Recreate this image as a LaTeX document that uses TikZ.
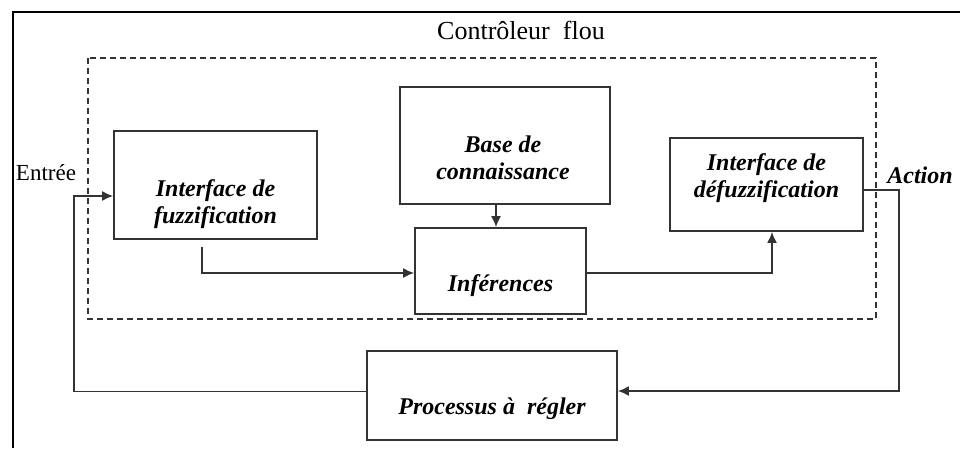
\documentclass[tikz,border=0pt]{standalone}
\usepackage{fontspec}
\setmainfont{Liberation Serif}
\usetikzlibrary{positioning}
\usetikzlibrary{calc}
\usetikzlibrary{arrows.meta}

\tikzset{
  bloc/.style={draw=black!80, line width=1.7pt, minimum width=#1, inner sep=0pt},
  txt/.style={align=center, font=\fontsize{24}{27}\selectfont\bfseries\itshape},
  fleche/.style={draw=black!80, line width=1.7pt, -{Latex[length=11pt,width=10pt]}}
}

\begin{document}
\begin{tikzpicture}[x=1pt,y=-1pt]
\useasboundingbox (0,0) rectangle (960,448);

% Cadre et controleur flou
\draw[line width=2.5pt] (13,448) -- (13,12) -- (960,12);
\node[font=\fontsize{26}{30}\selectfont] (titre) at (521,30) {Contrôleur\ \ flou};
\draw[dash pattern=on 6pt off 4pt, line width=1.7pt, black!80] (88,58) rectangle (876,319);

% Blocs
\node[bloc=203pt, minimum height=108pt] (fuzz) at (215.5,185) {};
\node[bloc=210pt, minimum height=117pt] (base) at (505,145.5) {};
\node[bloc=171pt, minimum height=86pt] (inf) at (500.5,271) {};
\node[bloc=193pt, minimum height=93pt] (defuzz) at (766.5,184.5) {};
\node[bloc=250pt, minimum height=89pt] (proc) at (492,395.5) {};

% Textes des blocs
\node[txt] (fuzz-t) at (215.5,204) {Interface de\\fuzzification};
\node[txt] (base-t) at (503,158) {Base de\\connaissance};
\node[txt] (inf-t) at (500.5,286) {Inférences};
\node[txt] (defuzz-t) at (766.5,178) {Interface de\\défuzzification};
\node[txt] (proc-t) at (492,409) {Processus à\ \ régler};

\node[font=\fontsize{23}{27}\selectfont] (entree) at (46,173) {Entrée};
\node[txt] (action) at (920,175) {Action};

% Liaisons
\coordinate (f1) at (202,247);
\draw[fleche] (f1) |- ([yshift=-2pt]inf.west);
\draw[fleche] ([xshift=-9pt]base.south) -- ([xshift=-9pt]base.south |- inf.north);
\draw[fleche] ([yshift=-2pt]inf.east) -| ([xshift=5.5pt]defuzz.south);
\draw[fleche] ([yshift=-5.5pt]defuzz.east) -- ++(35,0) |- ([yshift=4.5pt]proc.east);
\coordinate (e) at ([yshift=-11pt]fuzz.west);
\draw[fleche] ([yshift=4pt]proc.west) -| ([xshift=-39pt]e) -- (e);

\end{tikzpicture}
\end{document}
